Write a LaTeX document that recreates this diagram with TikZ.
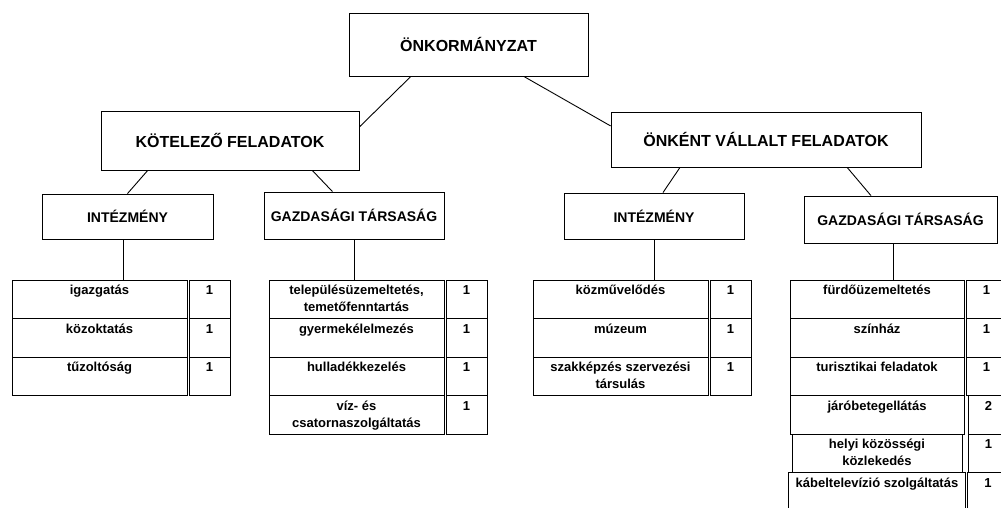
\documentclass[tikz,border=0pt]{standalone}
\usepackage{fontspec}
\setmainfont{Liberation Sans}
\usetikzlibrary{positioning}
\tikzset{
  box/.style={draw, inner sep=0pt, font=\bfseries\fontsize{16}{19}\selectfont},
  subbox/.style={box, font=\bfseries\fontsize{14}{17}\selectfont},
  cell/.style={draw, inner sep=0pt, outer sep=0pt, anchor=north west,
    text height=14.5pt, text depth=24pt, font=\bfseries\fontsize{13}{17}\selectfont},
  num/.style={cell, minimum width=41pt}
}
\newcommand{\twolines}[2]{\begin{tabular}[t]{@{}c@{}}#1\\#2\end{tabular}}

\begin{document}
\begin{tikzpicture}[x=1pt,y=-1pt,line width=0.9pt]
        \clip (0,0) rectangle (1001,507);
        \node[box, minimum width=239pt, minimum height=63pt] (onk) at (468.5,44.5) {ÖNKORMÁNYZAT};
        \node[box, minimum width=258pt, minimum height=59pt] (kot) at (230,140.5) {KÖTELEZŐ FELADATOK};
        \node[box, minimum width=310pt, minimum height=55pt] (onkent) at (766,139.5) {ÖNKÉNT VÁLLALT FELADATOK};
        \node[subbox, minimum width=171pt, minimum height=45pt] (int1) at (127.5,216.5) {INTÉZMÉNY};
        \node[subbox, minimum width=180pt, minimum height=47pt] (gt1) at (354,215.5) {GAZDASÁGI TÁRSASÁG};
        \node[subbox, minimum width=180pt, minimum height=46pt] (int2) at (654,216) {INTÉZMÉNY};
        \node[subbox, minimum width=193pt, minimum height=47pt] (gt2) at (900.5,219.5) {GAZDASÁGI TÁRSASÁG};
        \draw (onk.209) -- (kot.6);
        \draw (onk.330) -- (onkent.175);
        \draw (kot.200) -- (int1.north);
        \draw (kot.340) -- (gt1.132);
        \draw (onkent.198) -- (int2.69);
        \draw (onkent.341) -- (gt2.141);
        % kotelezo / intezmeny
        \node[cell, minimum width=175pt] (ig) at (12,280) {igazgatás};
        \node[num, right=2pt of ig] (ign) {1};
        \node[cell, minimum width=175pt, below=0pt of ig] (kozokt) {közoktatás};
        \node[num, right=2pt of kozokt] (kozoktn) {1};
        \node[cell, minimum width=175pt, below=0pt of kozokt] (tuz) {tűzoltóság};
        \node[num, right=2pt of tuz] (tuzn) {1};
        % kotelezo / gazdasagi tarsasag
        \node[cell, minimum width=175pt] (tel) at (269,280) {\twolines{településüzemeltetés,}{temetőfenntartás}};
        \node[num, right=2pt of tel] (teln) {1};
        \node[cell, minimum width=175pt, below=0pt of tel] (gyer) {gyermekélelmezés};
        \node[num, right=2pt of gyer] (gyern) {1};
        \node[cell, minimum width=175pt, below=0pt of gyer] (hull) {hulladékkezelés};
        \node[num, right=2pt of hull] (hulln) {1};
        \node[cell, minimum width=175pt, below=0pt of hull] (viz) {\twolines{víz- és}{csatornaszolgáltatás}};
        \node[num, right=2pt of viz] (vizn) {1};
        % onkent / intezmeny
        \node[cell, minimum width=175pt] (kozm) at (533,280) {közművelődés};
        \node[num, right=2pt of kozm] (kozmn) {1};
        \node[cell, minimum width=175pt, below=0pt of kozm] (muz) {múzeum};
        \node[num, right=2pt of muz] (muzn) {1};
        \node[cell, minimum width=175pt, below=0pt of muz] (szak) {\twolines{szakképzés szervezési}{társulás}};
        \node[num, right=2pt of szak] (szakn) {1};
        % onkent / gazdasagi tarsasag
        \node[cell, minimum width=174pt] (furd) at (790,280) {fürdőüzemeltetés};
        \node[num, right=2pt of furd] (furdn) {1};
        \node[cell, minimum width=174pt, below=0pt of furd] (szin) {színház};
        \node[num, right=2pt of szin] (szinn) {1};
        \node[cell, minimum width=174pt, below=0pt of szin] (tur) {turisztikai feladatok};
        \node[num, right=2pt of tur] (turn) {1};
        \node[cell, minimum width=174pt, below=0pt of tur] (jaro) {járóbetegellátás};
        \node[num, right=4pt of jaro] (jaron) {2};
        \node[cell, minimum width=170pt, below=0pt of jaro] (helyi) {\twolines{helyi közösségi}{közlekedés}};
        \node[num, right=6pt of helyi] (helyin) {1};
        \node[cell, minimum width=177pt, below=0pt of helyi] (kab) {kábeltelevízió szolgáltatás};
        \node[num, right=2pt of kab] (kabn) {1};
        \draw (int1.261) -- (int1.261 |- ig.north);
        \draw (gt1.south) -- (gt1.south |- tel.north);
        \draw (int2.south) -- (int2.south |- kozm.north);
        \draw (gt2.254) -- (gt2.254 |- furd.north);
\end{tikzpicture}
\end{document}
